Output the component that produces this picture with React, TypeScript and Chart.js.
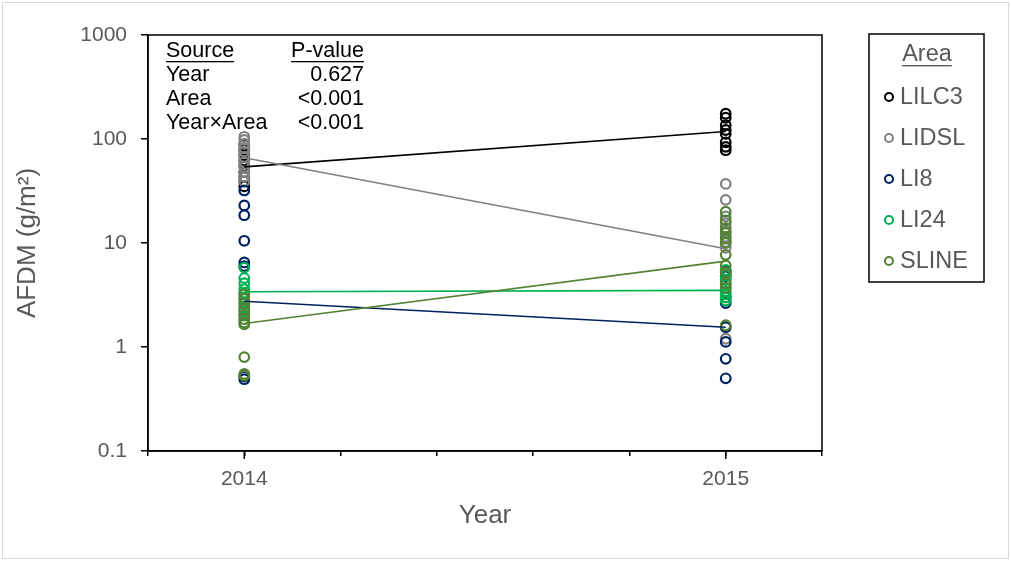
import { useEffect, useRef } from 'react';
import { Chart, registerables } from 'chart.js';

Chart.register(...registerables);

// ---- Data ----
const areas = ['LILC3', 'LIDSL', 'LI8', 'LI24', 'SLINE'];
const areaColors = ['#000000', '#808080', '#002060', '#00B050', '#548235'];
const years = [2014, 2015];

const LILC3_2014 = [88, 78, 70, 62, 55, 48, 43, 39, 35];
const LILC3_2015 = [175, 160, 136, 122, 112, 93, 84, 78];
const LIDSL_2014 = [105, 98, 90, 82, 76, 67, 60, 54, 48, 43, 39];
const LIDSL_2015 = [37, 26, 18, 15.5, 13, 11.5, 10.2, 9, 1.2];
const LI8_2014 = [32, 23, 18.5, 10.5, 6.5, 6.0, 0.52, 0.49];
const LI8_2015 = [5.3, 4.8, 3.0, 2.65, 1.55, 1.12, 0.77, 0.5];
const LI24_2014 = [5.8, 4.6, 4.1, 3.6, 3.3, 3.0, 2.7, 2.4, 2.2, 2.0];
const LI24_2015 = [5.5, 4.9, 4.4, 4.0, 3.7, 3.4, 3.2, 3.0, 2.8];
const SLINE_2014 = [3.2, 2.9, 2.6, 2.3, 2.05, 1.85, 1.72, 1.65, 0.8, 0.55, 0.53];
const SLINE_2015 = [20, 16.5, 14, 12.5, 11, 10, 7.7, 6.1, 5.2, 4.1, 3.7, 1.62];

// Group means (2014, 2015)
const LILC3_mean = [54, 118];
const LIDSL_mean = [66, 8.8];
const LI8_mean = [2.75, 1.55];
const LI24_mean = [3.4, 3.5];
const SLINE_mean = [1.68, 6.7];

const yTickValues = [0.1, 1, 10, 100, 1000];
const yTickLabels = ['0.1', '1', '10', '100', '1000'];
const xTickValues = [2013.8, 2014, 2014.2, 2014.4, 2014.6, 2014.8, 2015, 2015.2];

const statSources = ['Year', 'Area', 'Year×Area'];
const statPValues = ['0.627', '<0.001', '<0.001'];

const FONT = "'Liberation Sans', Arial, sans-serif";

const groups2014 = [LILC3_2014, LIDSL_2014, LI8_2014, LI24_2014, SLINE_2014];
const groups2015 = [LILC3_2015, LIDSL_2015, LI8_2015, LI24_2015, SLINE_2015];
const groupMeans = [LILC3_mean, LIDSL_mean, LI8_mean, LI24_mean, SLINE_mean];

const decorPlugin = {
  id: 'decor',
  beforeDraw(chart: any) {
    const ctx = chart.ctx;
    ctx.save();
    ctx.fillStyle = '#ffffff';
    ctx.fillRect(0, 0, chart.width, chart.height);
    ctx.strokeStyle = '#d9d9d9';
    ctx.lineWidth = 1;
    ctx.strokeRect(2.5, 2.5, chart.width - 5, chart.height - 5);
    ctx.restore();
  },
  afterDraw(chart: any) {
    const ctx = chart.ctx;
    const a = chart.chartArea;
    const xs = chart.scales.x;
    ctx.save();
    // frame
    ctx.strokeStyle = '#000';
    ctx.lineWidth = 1.5;
    ctx.strokeRect(a.left, a.top, a.right - a.left, a.bottom - a.top);
    // longer major ticks
    years.forEach((yr) => {
      const px = xs.getPixelForValue(yr);
      ctx.beginPath();
      ctx.moveTo(px, a.bottom);
      ctx.lineTo(px, a.bottom + 8);
      ctx.stroke();
    });

    // stats table
    ctx.fillStyle = '#000';
    ctx.font = `21.5px ${FONT}`;
    ctx.textBaseline = 'middle';
    const tx = 166;
    const tr = 364;
    const rowY = [51, 75, 99, 123];
    ctx.textAlign = 'left';
    ctx.fillText('Source', tx, rowY[0]);
    let w = ctx.measureText('Source').width;
    ctx.fillRect(tx, rowY[0] + 10, w, 1.3);
    ctx.textAlign = 'right';
    ctx.fillText('P-value', tr, rowY[0]);
    w = ctx.measureText('P-value').width;
    ctx.fillRect(tr - w, rowY[0] + 10, w, 1.3);
    statSources.forEach((s, i) => {
      ctx.textAlign = 'left';
      ctx.fillText(s, tx, rowY[i + 1]);
      ctx.textAlign = 'right';
      ctx.fillText(statPValues[i], tr, rowY[i + 1]);
    });

    // legend box
    ctx.strokeStyle = '#000';
    ctx.lineWidth = 1.5;
    ctx.strokeRect(869, 34, 115, 248);
    ctx.fillStyle = '#595959';
    ctx.font = `23.5px ${FONT}`;
    ctx.textAlign = 'center';
    ctx.fillText('Area', 927, 55);
    w = ctx.measureText('Area').width;
    ctx.fillRect(927 - w / 2, 65, w, 1.4);
    const legY = [97, 138, 179, 220, 261];
    areas.forEach((name, i) => {
      ctx.beginPath();
      ctx.strokeStyle = areaColors[i];
      ctx.lineWidth = 2;
      ctx.arc(889, legY[i], 4, 0, Math.PI * 2);
      ctx.stroke();
      ctx.fillStyle = '#595959';
      ctx.textAlign = 'left';
      ctx.fillText(name, 900, legY[i] + 1);
    });
    ctx.restore();
  },
};

export default function App() {
  const ref = useRef<HTMLCanvasElement | null>(null);

  useEffect(() => {
    document.body.style.margin = '0';
    const canvas = ref.current!;
    const pointSets = areas.map((name, i) => ({
      label: name,
      data: [
        ...groups2014[i].map((v) => ({ x: years[0], y: v })),
        ...groups2015[i].map((v) => ({ x: years[1], y: v })),
      ],
      showLine: false,
      pointStyle: 'circle',
      pointRadius: 4.8,
      pointBorderWidth: 2.2,
      pointBorderColor: areaColors[i],
      pointBackgroundColor: 'rgba(0,0,0,0)',
      borderColor: areaColors[i],
      order: 10 - i,
    }));
    const lineSets = areas.map((name, i) => ({
      label: name + ' mean',
      data: years.map((yr, j) => ({ x: yr, y: groupMeans[i][j] })),
      showLine: true,
      pointRadius: 0,
      borderColor: areaColors[i],
      borderWidth: 1.6,
      order: 5 - i,
    }));

    const chart = new Chart(canvas, {
      type: 'scatter',
      data: { datasets: [...pointSets, ...lineSets] as any },
      options: {
        animation: false,
        responsive: false,
        devicePixelRatio: 1,
        layout: { padding: { left: 0, top: 35, right: 189, bottom: 0 } },
        plugins: { legend: { display: false }, tooltip: { enabled: false } },
        scales: {
          x: {
            type: 'linear',
            min: 2013.8,
            max: 2015.2,
            afterBuildTicks: (s: any) => {
              s.ticks = xTickValues.map((v) => ({ value: v }));
            },
            afterFit: (s: any) => {
              s.height = 110;
            },
            ticks: {
              autoSkip: false,
              maxRotation: 0,
              color: '#595959',
              font: { family: FONT, size: 21 },
              padding: 11,
              callback: (v: any) => {
                const n = Number(v);
                return Math.abs(n - Math.round(n)) < 1e-6 ? String(Math.round(n)) : '';
              },
            },
            grid: { drawOnChartArea: false, drawTicks: true, tickLength: 5, color: '#000', lineWidth: 1.5 },
            border: { display: true, color: '#000', width: 1.5 },
            title: {
              display: true,
              text: 'Year',
              color: '#595959',
              font: { family: FONT, size: 26, lineHeight: 1.2 },
              padding: { top: 0, bottom: 30 },
            },
          },
          y: {
            type: 'logarithmic',
            min: 0.1,
            max: 1000,
            afterBuildTicks: (s: any) => {
              s.ticks = yTickValues.map((v) => ({ value: v }));
            },
            afterFit: (s: any) => {
              s.width = 148;
            },
            ticks: {
              autoSkip: false,
              color: '#595959',
              font: { family: FONT, size: 21 },
              padding: 14,
              callback: (v: any) => {
                const idx = yTickValues.findIndex((t) => Math.abs(t - Number(v)) < 1e-9);
                return idx >= 0 ? yTickLabels[idx] : '';
              },
            },
            grid: { drawOnChartArea: false, drawTicks: true, tickLength: 7, color: '#000', lineWidth: 1.5 },
            border: { display: true, color: '#000', width: 1.5 },
            title: {
              display: true,
              text: 'AFDM (g/m²)',
              color: '#595959',
              font: { family: FONT, size: 26, lineHeight: 1.2 },
              padding: { top: 12, bottom: 0 },
            },
          },
        },
      } as any,
      plugins: [decorPlugin],
    });
    return () => chart.destroy();
  }, []);

  return (
    <div style={{ width: 1011, height: 561 }}>
      <canvas ref={ref} width={1011} height={561} style={{ display: 'block' }} />
    </div>
  );
}
